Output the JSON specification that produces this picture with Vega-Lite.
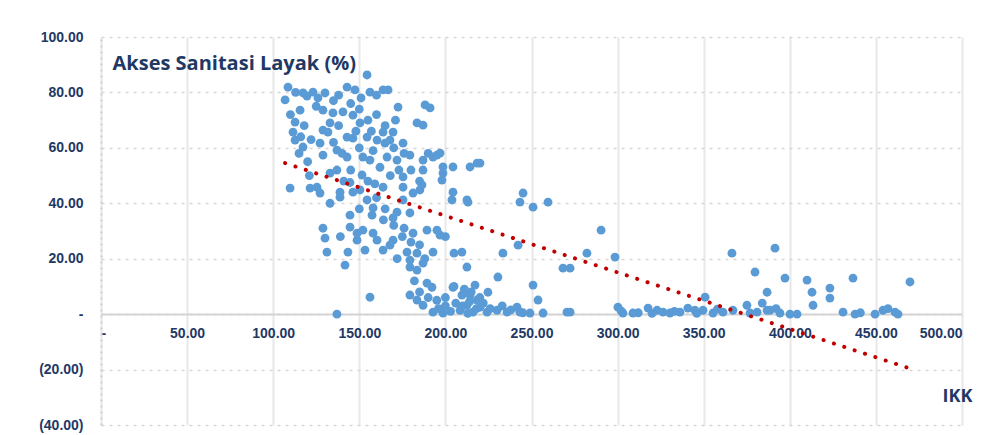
{
  "$schema": "https://vega.github.io/schema/vega-lite/v6.json",
  "width": 861,
  "height": 388,
  "autosize": {"type": "none"},
  "padding": {"left": 101, "top": 37, "right": 38, "bottom": 10},
  "background": "white",
  "config": {"view": {"stroke": null}},
  "datasets": {
    "points": [
      {"ikk":108.6,"sanitasi":81.9},{"ikk":106.9,"sanitasi":77.3},{"ikk":117.3,"sanitasi":79.8},{"ikk":123.1,"sanitasi":80.1},{"ikk":130.1,"sanitasi":79.8},{"ikk":142.9,"sanitasi":81.9},{"ikk":147.5,"sanitasi":80.9},{"ikk":154.5,"sanitasi":86.3},{"ikk":156.2,"sanitasi":80.1},{"ikk":163.8,"sanitasi":80.9},
      {"ikk":172.5,"sanitasi":74.7},{"ikk":188.2,"sanitasi":75.5},{"ikk":191.1,"sanitasi":74.4},{"ikk":115.6,"sanitasi":73.6},{"ikk":112.7,"sanitasi":69.3},{"ikk":111.5,"sanitasi":65.7},{"ikk":112.7,"sanitasi":62.8},{"ikk":117.3,"sanitasi":60.3},{"ikk":128.9,"sanitasi":73.6},{"ikk":134.7,"sanitasi":72.6},
      {"ikk":140.5,"sanitasi":73.0},{"ikk":146.3,"sanitasi":71.8},{"ikk":150.4,"sanitasi":69.0},{"ikk":128.9,"sanitasi":66.4},{"ikk":131.8,"sanitasi":65.7},{"ikk":142.9,"sanitasi":63.9},{"ikk":146.3,"sanitasi":63.5},{"ikk":154.5,"sanitasi":63.9},{"ikk":160.3,"sanitasi":62.8},{"ikk":163.8,"sanitasi":65.7},
      {"ikk":169.6,"sanitasi":65.7},{"ikk":164.9,"sanitasi":61.7},{"ikk":183.5,"sanitasi":69.0},{"ikk":175.4,"sanitasi":61.7},{"ikk":127.2,"sanitasi":61.7},{"ikk":137.0,"sanitasi":59.2},{"ikk":128.9,"sanitasi":57.4},{"ikk":142.9,"sanitasi":56.7},{"ikk":152.1,"sanitasi":56.7},{"ikk":156.2,"sanitasi":55.6},
      {"ikk":166.1,"sanitasi":56.7},{"ikk":171.9,"sanitasi":55.6},{"ikk":179.4,"sanitasi":57.4},{"ikk":187.0,"sanitasi":55.6},{"ikk":187.0,"sanitasi":52.0},{"ikk":175.4,"sanitasi":49.5},{"ikk":137.0,"sanitasi":52.0},{"ikk":151.6,"sanitasi":50.2},{"ikk":109.8,"sanitasi":45.5},{"ikk":121.4,"sanitasi":45.5},
      {"ikk":127.2,"sanitasi":43.7},{"ikk":146.3,"sanitasi":44.0},{"ikk":163.8,"sanitasi":45.8},{"ikk":175.4,"sanitasi":45.8},{"ikk":119.6,"sanitasi":78.7},{"ikk":166.7,"sanitasi":80.9},{"ikk":218.4,"sanitasi":54.5},{"ikk":214.3,"sanitasi":53.1},{"ikk":167.8,"sanitasi":62.8},{"ikk":192.8,"sanitasi":56.7},
      {"ikk":196.9,"sanitasi":58.1},{"ikk":198.6,"sanitasi":53.1},{"ikk":204.4,"sanitasi":44.0},{"ikk":212.5,"sanitasi":41.2},{"ikk":198.6,"sanitasi":50.9},{"ikk":204.4,"sanitasi":53.1},{"ikk":181.2,"sanitasi":43.7},{"ikk":185.2,"sanitasi":44.8},{"ikk":175.4,"sanitasi":41.2},{"ikk":154.5,"sanitasi":41.2},
      {"ikk":150.4,"sanitasi":44.8},{"ikk":133.0,"sanitasi":50.9},{"ikk":125.4,"sanitasi":45.8},{"ikk":144.6,"sanitasi":47.5},{"ikk":138.8,"sanitasi":44.0},{"ikk":138.8,"sanitasi":42.2},{"ikk":144.6,"sanitasi":35.7},{"ikk":158.0,"sanitasi":38.3},{"ikk":157.4,"sanitasi":35.7},{"ikk":171.9,"sanitasi":36.8},
      {"ikk":169.6,"sanitasi":34.7},{"ikk":179.4,"sanitasi":36.5},{"ikk":128.9,"sanitasi":31.0},{"ikk":130.1,"sanitasi":27.4},{"ikk":144.6,"sanitasi":31.4},{"ikk":148.7,"sanitasi":29.2},{"ikk":152.1,"sanitasi":30.3},{"ikk":158.0,"sanitasi":29.2},{"ikk":160.3,"sanitasi":26.7},{"ikk":148.7,"sanitasi":26.7},
      {"ikk":169.6,"sanitasi":26.7},{"ikk":181.2,"sanitasi":29.2},{"ikk":189.3,"sanitasi":30.3},{"ikk":131.2,"sanitasi":22.4},{"ikk":143.4,"sanitasi":22.4},{"ikk":153.3,"sanitasi":23.1},{"ikk":163.8,"sanitasi":23.1},{"ikk":167.8,"sanitasi":24.9},{"ikk":177.7,"sanitasi":22.4},{"ikk":179.4,"sanitasi":19.5},
      {"ikk":183.5,"sanitasi":22.0},{"ikk":179.4,"sanitasi":17.0},{"ikk":183.5,"sanitasi":15.9},{"ikk":187.0,"sanitasi":18.4},{"ikk":141.7,"sanitasi":17.7},{"ikk":189.3,"sanitasi":11.2},{"ikk":156.2,"sanitasi":6.1},{"ikk":179.4,"sanitasi":6.9},{"ikk":183.5,"sanitasi":5.1},{"ikk":187.0,"sanitasi":3.2},
      {"ikk":137.0,"sanitasi":0.0},{"ikk":187.0,"sanitasi":68.2},{"ikk":195.1,"sanitasi":57.4},{"ikk":198.0,"sanitasi":48.4},{"ikk":186.4,"sanitasi":46.6},{"ikk":220.1,"sanitasi":54.5},{"ikk":203.8,"sanitasi":41.2},{"ikk":213.1,"sanitasi":40.4},{"ikk":245.1,"sanitasi":43.7},{"ikk":243.3,"sanitasi":40.4},
      {"ikk":250.9,"sanitasi":38.6},{"ikk":259.6,"sanitasi":40.4},{"ikk":195.1,"sanitasi":30.3},{"ikk":196.9,"sanitasi":28.5},{"ikk":192.8,"sanitasi":22.4},{"ikk":209.6,"sanitasi":22.4},{"ikk":233.4,"sanitasi":22.0},{"ikk":212.5,"sanitasi":17.0},{"ikk":230.5,"sanitasi":13.4},{"ikk":242.2,"sanitasi":24.9},
      {"ikk":268.3,"sanitasi":16.6},{"ikk":192.2,"sanitasi":9.7},{"ikk":204.4,"sanitasi":9.7},{"ikk":217.2,"sanitasi":10.5},{"ikk":224.7,"sanitasi":7.9},{"ikk":250.9,"sanitasi":10.5},{"ikk":253.8,"sanitasi":5.1},{"ikk":209.6,"sanitasi":6.9},{"ikk":214.3,"sanitasi":6.9},{"ikk":218.4,"sanitasi":5.1},
      {"ikk":212.5,"sanitasi":3.2},{"ikk":220.1,"sanitasi":2.5},{"ikk":208.5,"sanitasi":1.4},{"ikk":216.0,"sanitasi":0.7},{"ikk":224.2,"sanitasi":0.7},{"ikk":230.0,"sanitasi":1.4},{"ikk":235.8,"sanitasi":0.7},{"ikk":241.6,"sanitasi":2.5},{"ikk":243.3,"sanitasi":0.7},{"ikk":192.8,"sanitasi":0.7},
      {"ikk":198.6,"sanitasi":0.4},{"ikk":249.1,"sanitasi":0.4},{"ikk":256.7,"sanitasi":0.4},{"ikk":270.6,"sanitasi":0.7},{"ikk":210,"sanitasi":3},{"ikk":214,"sanitasi":4.5},{"ikk":218,"sanitasi":2},{"ikk":222,"sanitasi":4},{"ikk":211,"sanitasi":9},{"ikk":215,"sanitasi":8},
      {"ikk":220,"sanitasi":6},{"ikk":206,"sanitasi":4},{"ikk":226,"sanitasi":2},{"ikk":213,"sanitasi":0.3},{"ikk":203,"sanitasi":1},{"ikk":200,"sanitasi":6},{"ikk":196,"sanitasi":2},{"ikk":233,"sanitasi":3},{"ikk":238,"sanitasi":1.5},{"ikk":245,"sanitasi":0.5},
      {"ikk":290.4,"sanitasi":30.3},{"ikk":282.2,"sanitasi":22.0},{"ikk":298.5,"sanitasi":20.6},{"ikk":366.4,"sanitasi":22.0},{"ikk":379.8,"sanitasi":15.2},{"ikk":386.8,"sanitasi":7.9},{"ikk":350.8,"sanitasi":6.1},{"ikk":272.4,"sanitasi":16.6},{"ikk":272.4,"sanitasi":0.7},{"ikk":300.2,"sanitasi":2.5},
      {"ikk":303.1,"sanitasi":0.4},{"ikk":308.9,"sanitasi":0.4},{"ikk":317.7,"sanitasi":2.2},{"ikk":322.9,"sanitasi":1.4},{"ikk":326.4,"sanitasi":0.7},{"ikk":330.4,"sanitasi":0.4},{"ikk":336.2,"sanitasi":0.7},{"ikk":340.8,"sanitasi":2.2},{"ikk":344.9,"sanitasi":1.4},{"ikk":349.6,"sanitasi":1.4},
      {"ikk":355.4,"sanitasi":0.4},{"ikk":361.2,"sanitasi":0.7},{"ikk":367.0,"sanitasi":1.4},{"ikk":375.1,"sanitasi":3.2},{"ikk":381.0,"sanitasi":0.7},{"ikk":386.8,"sanitasi":1.4},{"ikk":376.9,"sanitasi":0.4},{"ikk":302,"sanitasi":1.2},{"ikk":312,"sanitasi":0.5},{"ikk":320,"sanitasi":0.3},
      {"ikk":333,"sanitasi":1.0},{"ikk":346,"sanitasi":0.3},{"ikk":358,"sanitasi":1.8},{"ikk":391.4,"sanitasi":23.8},{"ikk":397.2,"sanitasi":13.0},{"ikk":410.0,"sanitasi":12.3},{"ikk":412.9,"sanitasi":7.9},{"ikk":423.3,"sanitasi":9.4},{"ikk":423.3,"sanitasi":5.8},{"ikk":413.5,"sanitasi":3.2},
      {"ikk":436.7,"sanitasi":13.0},{"ikk":469.8,"sanitasi":11.6},{"ikk":388.5,"sanitasi":1.4},{"ikk":394.3,"sanitasi":0.4},{"ikk":400.1,"sanitasi":0.0},{"ikk":404.2,"sanitasi":0.0},{"ikk":430.9,"sanitasi":0.7},{"ikk":437.9,"sanitasi":0.0},{"ikk":449.5,"sanitasi":0.0},{"ikk":454.1,"sanitasi":1.4},
      {"ikk":461.1,"sanitasi":0.7},{"ikk":462.8,"sanitasi":0.0},{"ikk":384.0,"sanitasi":4.0},{"ikk":392.0,"sanitasi":2.0},{"ikk":441,"sanitasi":0.5},{"ikk":457,"sanitasi":2.0},{"ikk":110,"sanitasi":72},{"ikk":118,"sanitasi":68},{"ikk":122,"sanitasi":63},{"ikk":125,"sanitasi":75},
      {"ikk":135,"sanitasi":77},{"ikk":138,"sanitasi":68},{"ikk":145,"sanitasi":76},{"ikk":150,"sanitasi":74},{"ikk":155,"sanitasi":70},{"ikk":160,"sanitasi":72},{"ikk":165,"sanitasi":68},{"ikk":170,"sanitasi":60},{"ikk":176,"sanitasi":58},{"ikk":180,"sanitasi":52},
      {"ikk":185,"sanitasi":48},{"ikk":190,"sanitasi":58},{"ikk":135,"sanitasi":62},{"ikk":140,"sanitasi":58},{"ikk":150,"sanitasi":60},{"ikk":158,"sanitasi":59},{"ikk":162,"sanitasi":53},{"ikk":168,"sanitasi":50},{"ikk":145,"sanitasi":52},{"ikk":155,"sanitasi":48},
      {"ikk":120,"sanitasi":55},{"ikk":115,"sanitasi":58},{"ikk":160,"sanitasi":42},{"ikk":165,"sanitasi":38},{"ikk":170,"sanitasi":32},{"ikk":175,"sanitasi":28},{"ikk":180,"sanitasi":26},{"ikk":185,"sanitasi":25},{"ikk":188,"sanitasi":20},{"ikk":182,"sanitasi":12},
      {"ikk":185,"sanitasi":8},{"ikk":190,"sanitasi":6},{"ikk":195,"sanitasi":5},{"ikk":200,"sanitasi":3},{"ikk":205,"sanitasi":10},{"ikk":200,"sanitasi":28},{"ikk":205,"sanitasi":22},
      {"ikk":113,"sanitasi":80},{"ikk":126,"sanitasi":78},{"ikk":138,"sanitasi":79},{"ikk":151,"sanitasi":78},{"ikk":160,"sanitasi":79},{"ikk":116,"sanitasi":64},{"ikk":133,"sanitasi":69},{"ikk":148,"sanitasi":66},{"ikk":157,"sanitasi":66},{"ikk":171,"sanitasi":70},
      {"ikk":121,"sanitasi":50},{"ikk":141,"sanitasi":48},{"ikk":159,"sanitasi":47},{"ikk":173,"sanitasi":52},{"ikk":133,"sanitasi":40},{"ikk":150,"sanitasi":38},{"ikk":164,"sanitasi":34},{"ikk":176,"sanitasi":31},{"ikk":139,"sanitasi":28},{"ikk":172,"sanitasi":20}
    ],
    "trend": [
      {"ikk":106.9,"sanitasi":54.5},
      {"ikk":469.2,"sanitasi":-19.5}
    ]
  },
  "encoding": {
    "x": {
      "field": "ikk", "type": "quantitative",
      "scale": {"domain": [0, 500], "nice": false, "zero": false},
      "axis": {
        "orient": "bottom",
        "offset": -111,
        "values": [0, 50, 100, 150, 200, 250, 300, 350, 400, 450, 500],
        "labelExpr": "datum.value == 0 ? '-' : format(datum.value, '.2f')",
        "labelFont": "Liberation Sans",
        "labelFontSize": 14,
        "labelFontWeight": "bold",
        "labelColor": "#1f3864",
        "labelPadding": 12,
        "ticks": false,
        "domain": true,
        "domainColor": "#d4d4d4",
        "domainWidth": 2,
        "grid": true,
        "gridColor": "#e8e8e8",
        "gridWidth": 2,
        "title": "IKK",
        "titleFont": "Open Sans",
        "titleFontSize": 18,
        "titleFontWeight": "bold",
        "titleColor": "#1f3864",
        "titleAlign": "center",
        "titleBaseline": "middle",
        "titleX": 856,
        "titleY": 82
      }
    },
    "y": {
      "field": "sanitasi", "type": "quantitative",
      "scale": {"domain": [-40, 100], "nice": false, "zero": false},
      "axis": {
        "values": [-40, -20, 0, 20, 40, 60, 80, 100],
        "labelExpr": "datum.value == 0 ? '-' : (datum.value < 0 ? '(' + format(-datum.value, '.2f') + ')' : format(datum.value, '.2f'))",
        "labelFont": "Liberation Sans",
        "labelFontSize": 14,
        "labelFontWeight": "bold",
        "labelColor": "#1f3864",
        "labelPadding": 18,
        "ticks": false,
        "domain": true,
        "domainColor": "#cfcfcf",
        "domainDash": [2, 4],
        "domainWidth": 2,
        "grid": true,
        "gridColor": "#d6d6d6",
        "gridDash": [3, 5],
        "gridWidth": 1.5,
        "title": "Akses Sanitasi Layak (%)",
        "titleAngle": 0,
        "titleFont": "Open Sans",
        "titleFontSize": 20,
        "titleFontWeight": "bold",
        "titleColor": "#1f3864",
        "titleAlign": "left",
        "titleBaseline": "middle",
        "titleX": 11,
        "titleY": 26
      }
    }
  },
  "layer": [
    {
      "data": {"name": "points"},
      "mark": {"type": "circle", "color": "#5b9bd5", "opacity": 1, "size": 78}
    },
    {
      "data": {"name": "trend"},
      "mark": {"type": "line", "color": "#c00000", "strokeWidth": 4, "strokeDash": [0.1, 10.8], "strokeCap": "round"}
    }
  ]
}
